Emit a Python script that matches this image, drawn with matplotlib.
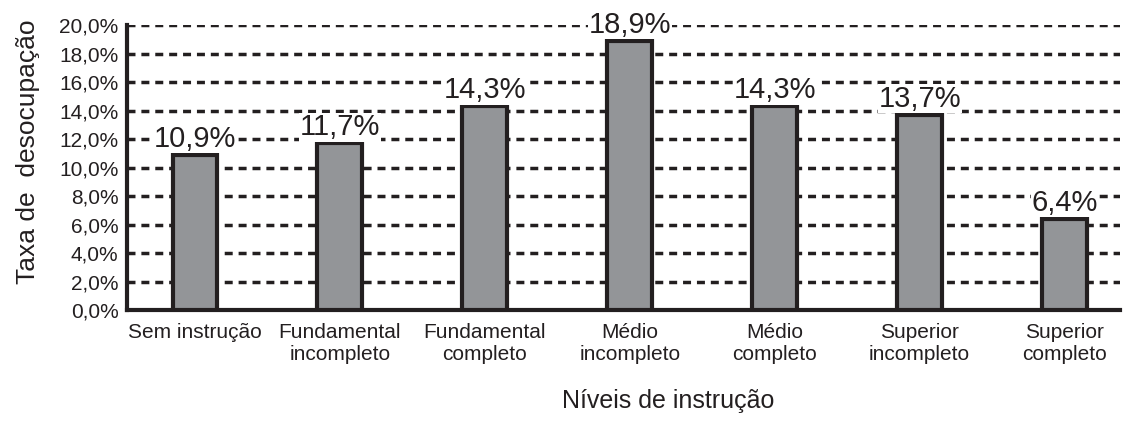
import matplotlib.pyplot as plt
from matplotlib.ticker import FuncFormatter

plt.rcParams['font.family'] = ['Liberation Sans', 'DejaVu Sans']

# Dados
niveis = ["Sem instrução", "Fundamental\nincompleto", "Fundamental\ncompleto",
          "Médio\nincompleto", "Médio\ncompleto", "Superior\nincompleto", "Superior\ncompleto"]
taxa = [10.9, 11.7, 14.3, 18.9, 14.3, 13.7, 6.4]
yticks = [0, 2, 4, 6, 8, 10, 12, 14, 16, 18, 20]

fig = plt.figure(figsize=(11.23, 4.32), dpi=100)
ax = fig.add_axes([0.113, 0.282, 0.884, 0.66])

x = range(len(niveis))
ax.bar(x, taxa, width=0.31, color="#939598", edgecolor="#231f20", linewidth=3, zorder=3)

for xi, v in zip(x, taxa):
    ax.text(xi, v + 0.15, f"{v:.1f}%".replace(".", ","), ha="center", va="bottom",
            fontsize=21, color="#231f20", zorder=4,
            bbox=dict(facecolor="white", edgecolor="none", pad=0.5))

ax.set_ylim(0, 20)
ax.set_xlim(-0.47, 6.38)
ax.set_yticks(yticks)
ax.yaxis.set_major_formatter(FuncFormatter(lambda v, p: f"{v:.1f}%".replace(".", ",")))
ax.set_xticks(list(x))
ax.set_xticklabels(niveis, fontsize=15, color="#231f20", linespacing=1.2)
ax.tick_params(axis="y", length=0, labelsize=15, colors="#231f20", pad=6)
ax.tick_params(axis="x", length=0, pad=9)

ax.yaxis.grid(True, linestyle=(0, (2.3, 1.7)), linewidth=2.5, color="#231f20", zorder=1)
ax.set_axisbelow(True)

for s in ["top", "right"]:
    ax.spines[s].set_visible(False)
ax.spines["left"].set_linewidth(3)
ax.spines["bottom"].set_linewidth(3)
ax.spines["left"].set_color("#231f20")
ax.spines["bottom"].set_color("#231f20")

ax.set_ylabel("Taxa de  desocupação", fontsize=19, color="#231f20")
ax.yaxis.set_label_coords(-0.088, 0.555)
fig.text(0.595, 0.055, "Níveis de instrução", ha="center", fontsize=18, color="#231f20")

fig.savefig("out.png", dpi=100)
